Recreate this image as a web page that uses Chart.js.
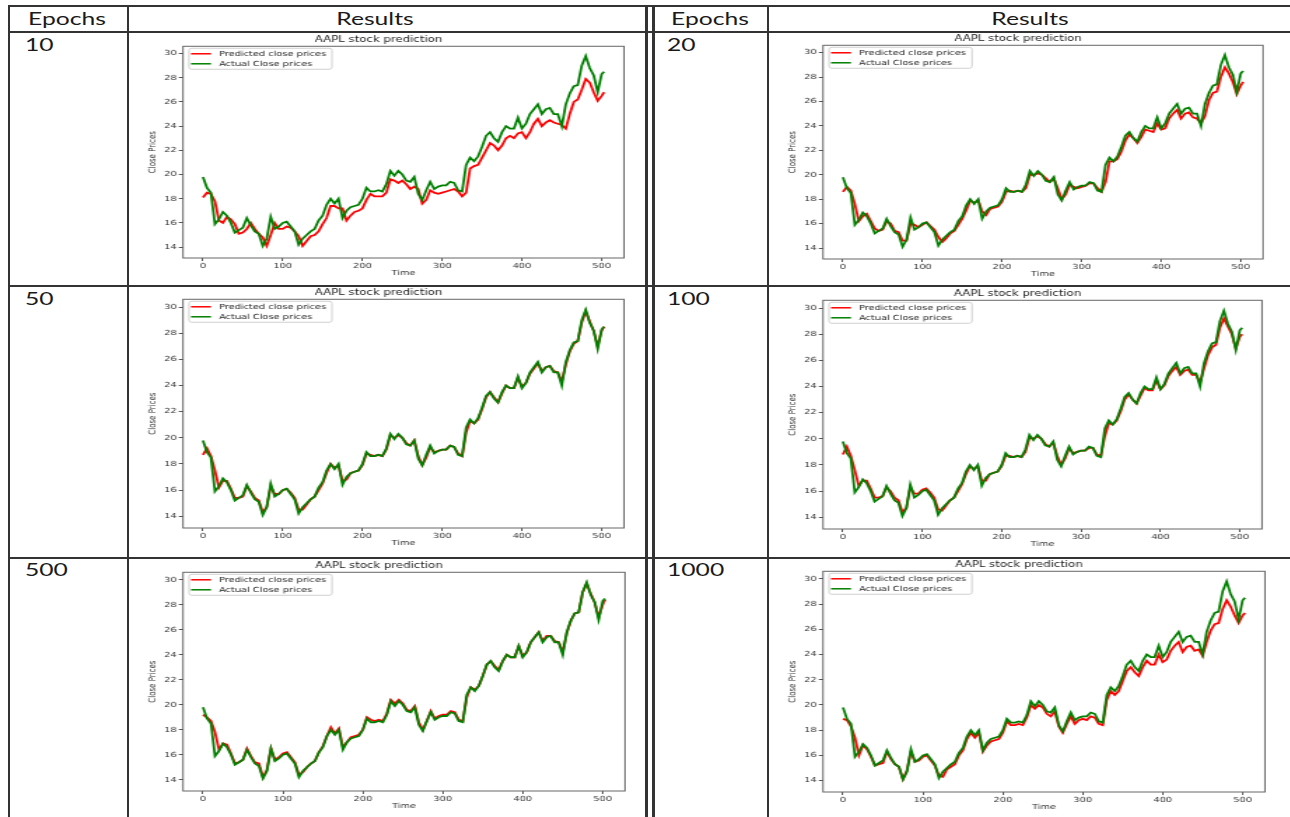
<!DOCTYPE html>
<html>
<head>
<meta charset="utf-8">
<script src="https://cdn.jsdelivr.net/npm/chart.js@4.4.1/dist/chart.umd.min.js"></script>
<style>
body { margin: 0; background: #fff; }
#page { position: relative; width: 1290px; height: 817px; overflow: hidden; background: #fff; }
.ln { position: absolute; background: #333; }
.txt { position: absolute; font-family: Lato, 'Open Sans', sans-serif; font-size: 17px; line-height: 17px; color: #1a1a1a; white-space: nowrap; }
.fig { position: absolute; transform-origin: 0 0; }
</style>
</head>
<body>
<div id="page"></div>
<script>
// time steps (every 5th trading day)
const days = [0,5,10,15,20,25,30,35,40,45,50,55,60,65,70,75,80,85,90,95,
  100,105,110,115,120,125,130,135,140,145,150,155,160,165,170,175,180,185,190,195,
  200,205,210,215,220,225,230,235,240,245,250,255,260,265,270,275,280,285,290,295,
  300,305,310,315,320,325,330,335,340,345,350,355,360,365,370,375,380,385,390,395,
  400,405,410,415,420,425,430,435,440,445,450,455,460,465,470,475,480,485,490,495,500,503];

const actual = [19.8,18.9,18.5,15.9,16.3,16.9,16.6,16.0,15.2,15.4,
  15.6,16.4,15.8,15.3,15.1,14.1,14.7,16.5,15.5,15.7,
  16.0,16.1,15.7,15.3,14.2,14.7,15.0,15.3,15.5,16.2,
  16.6,17.5,18.0,17.6,18.0,16.4,17.0,17.3,17.4,17.5,
  18.0,18.9,18.6,18.6,18.7,18.6,19.2,20.3,19.9,20.3,
  20.0,19.5,19.4,19.8,18.4,17.9,18.7,19.4,18.8,19.0,
  19.1,19.1,19.4,19.3,18.7,18.6,20.8,21.4,21.1,21.5,
  22.3,23.2,23.5,23.0,22.7,23.5,24.0,23.8,23.8,24.7,
  23.8,24.2,25.0,25.4,25.8,25.0,25.4,25.5,25.0,25.0,
  24.0,25.8,26.7,27.3,27.4,29.0,29.8,28.8,28.2,26.8,
  28.3,28.5];

const pred10 = [18.1,18.5,18.4,17.8,16.2,16.0,16.5,16.3,15.9,15.1,
  15.2,15.5,16.0,15.5,15.1,14.8,14.1,15.0,16.0,15.5,
  15.5,15.7,15.6,15.3,14.9,14.1,14.5,14.9,15.0,15.3,
  15.9,16.4,17.4,17.4,17.2,17.2,16.2,16.6,16.9,17.0,
  17.2,17.9,18.4,18.2,18.2,18.2,18.5,19.6,19.5,19.3,
  19.5,19.2,18.8,19.0,18.8,17.6,17.9,18.7,18.5,18.4,
  18.5,18.6,18.7,18.8,18.6,18.2,18.5,20.5,20.7,20.8,
  21.4,22.0,22.6,22.4,22.0,22.4,23.0,23.2,23.0,23.4,
  23.5,23.0,23.5,24.2,24.6,24.0,24.3,24.5,24.3,24.2,
  24.1,23.8,25.0,26.0,26.2,27.0,27.9,27.6,26.8,26.1,
  26.5,26.8];

const pred20 = [18.6,19.0,18.7,17.6,16.2,16.6,16.8,16.2,15.6,15.4,
  15.5,16.2,16.0,15.4,15.3,14.6,14.6,16.0,15.9,15.7,
  15.9,16.1,15.8,15.5,14.9,14.5,14.8,15.2,15.4,15.9,
  16.4,17.1,17.9,17.7,17.9,17.0,16.7,17.2,17.3,17.4,
  17.8,18.6,18.7,18.6,18.7,18.6,18.9,20.0,20.0,20.1,
  20.0,19.7,19.4,19.7,18.9,18.0,18.4,19.2,19.0,18.9,
  19.0,19.1,19.3,19.3,18.9,18.6,19.4,21.1,21.1,21.3,
  21.9,22.8,23.3,23.0,22.6,23.1,23.7,23.6,23.5,24.2,
  23.7,23.8,24.6,25.0,25.3,24.6,25.0,25.1,24.7,24.6,
  24.2,24.8,26.1,26.7,26.8,28.0,28.8,28.3,27.6,26.6,
  27.3,27.6];

const pred50 = [18.7,19.2,18.6,17.5,16.2,16.7,16.7,16.1,15.4,15.4,
  15.5,16.3,15.9,15.4,15.2,14.3,14.7,16.3,15.7,15.7,
  16.0,16.1,15.8,15.4,14.5,14.5,14.9,15.3,15.5,16.0,
  16.5,17.3,18.0,17.7,17.9,16.7,16.8,17.3,17.4,17.5,
  17.9,18.8,18.7,18.6,18.7,18.6,19.1,20.2,20.0,20.2,
  20.0,19.6,19.4,19.8,18.6,17.9,18.5,19.3,18.9,19.0,
  19.1,19.1,19.4,19.3,18.8,18.6,20.4,21.3,21.1,21.4,
  22.2,23.1,23.5,23.1,22.7,23.4,24.0,23.8,23.8,24.6,
  23.9,24.2,24.9,25.3,25.7,25.1,25.4,25.5,25.1,25.0,
  24.3,25.6,26.6,27.2,27.4,28.8,29.7,28.9,28.2,27.0,
  28.2,28.5];

const pred100 = [18.8,19.4,18.7,17.6,16.4,16.8,16.8,16.2,15.5,15.5,
  15.6,16.3,16.0,15.5,15.3,14.4,14.7,16.3,15.8,15.8,
  16.1,16.2,15.9,15.5,14.6,14.5,14.9,15.3,15.5,16.0,
  16.5,17.3,17.9,17.7,17.9,16.8,16.8,17.3,17.4,17.5,
  17.9,18.7,18.7,18.6,18.7,18.6,19.0,20.1,20.0,20.2,
  20.0,19.6,19.4,19.7,18.7,18.0,18.5,19.3,18.9,19.0,
  19.1,19.1,19.3,19.3,18.8,18.7,20.2,21.2,21.1,21.4,
  22.1,23.0,23.4,23.0,22.7,23.3,23.9,23.7,23.7,24.5,
  23.8,24.1,24.8,25.2,25.5,24.9,25.2,25.3,24.9,24.9,
  24.3,25.4,26.4,27.0,27.2,28.5,29.2,28.6,28.0,26.9,
  27.8,28.0];

const pred500 = [19.2,19.0,18.7,17.8,16.4,16.9,16.8,16.1,15.3,15.4,
  15.6,16.5,15.9,15.4,15.3,14.2,14.8,16.5,15.6,15.8,
  16.1,16.2,15.8,15.4,14.4,14.6,15.0,15.3,15.5,16.2,
  16.7,17.5,18.2,17.7,18.1,16.6,17.0,17.4,17.5,17.6,
  18.0,19.0,18.8,18.7,18.8,18.7,19.3,20.4,20.1,20.4,
  20.1,19.6,19.5,19.9,18.6,18.0,18.7,19.5,18.9,19.1,
  19.2,19.2,19.5,19.4,18.8,18.7,20.6,21.4,21.2,21.5,
  22.3,23.2,23.5,23.1,22.8,23.5,24.0,23.8,23.8,24.7,
  23.9,24.2,25.0,25.4,25.8,25.1,25.5,25.5,25.1,25.0,
  24.2,25.7,26.7,27.3,27.4,29.0,29.7,28.9,28.2,27.0,
  28.0,28.4];

const pred1000 = [18.9,18.8,18.3,17.4,16.0,16.8,16.5,15.9,15.2,15.3,
  15.4,16.3,15.7,15.3,15.1,14.1,14.8,16.3,15.5,15.6,
  15.9,16.0,15.6,15.2,14.4,14.3,14.9,15.1,15.3,16.0,
  16.4,17.3,17.8,17.4,17.8,16.3,16.8,17.1,17.2,17.3,
  17.8,18.7,18.4,18.4,18.5,18.4,19.0,20.0,19.7,20.0,
  19.8,19.3,19.1,19.5,18.3,17.8,18.5,19.1,18.5,18.8,
  18.9,18.8,19.1,19.0,18.5,18.4,20.4,21.1,20.8,21.1,
  21.9,22.7,23.0,22.6,22.3,23.0,23.5,23.2,23.2,24.0,
  23.4,23.6,24.3,24.7,25.0,24.2,24.6,24.7,24.3,24.4,
  23.9,25.0,25.9,26.4,26.5,27.6,28.3,27.8,27.1,26.5,
  27.1,27.3];

const epochs = ['10', '20', '50', '100', '500', '1000'];
const predictions = [pred10, pred20, pred50, pred100, pred500, pred1000];
const yTicks = { min: 13.1, max: 30.6, step: 2 };
const xTicks = { min: -25, max: 528, step: 100 };

const SX = 1.4; // the reference picture is stretched sideways

// plot boxes (page px): left, top, width, height
const panels = [
  [183, 47, 441, 211],
  [823, 46, 440, 213],
  [183, 300, 441, 228],
  [823, 301, 439, 228],
  [183, 573, 442, 218],
  [823, 572, 442, 220]
];
const epochLabelPos = [[25, 36], [667, 36], [25, 290], [667, 290], [25, 561], [667, 561]];

const page = document.getElementById('page');

function line(x, y, w, h) {
  const d = document.createElement('div');
  d.className = 'ln';
  d.style.cssText = `left:${x}px;top:${y}px;width:${w}px;height:${h}px`;
  page.appendChild(d);
}

function text(str, x, y, centered) {
  const d = document.createElement('div');
  d.className = 'txt';
  d.textContent = str;
  if (centered) {
    d.style.cssText = `left:${x - 100}px;top:${y}px;width:200px;text-align:center;transform:scaleX(1.45);transform-origin:50% 0`;
  } else {
    d.style.cssText = `left:${x}px;top:${y}px;transform:scaleX(1.45);transform-origin:0 0`;
  }
  page.appendChild(d);
}

// table grid
line(8, 5, 1282, 1.5);
line(8, 31, 1282, 1.5);
line(8, 285, 1282, 1.5);
line(8, 557, 1282, 1.5);
line(8, 5, 1.5, 812);
line(127, 5, 1.5, 812);
line(645, 5, 3, 812);
line(652, 5, 2.5, 812);
line(767, 5, 1.5, 812);

text('Epochs', 67, 10, true);
text('Results', 375, 10, true);
text('Epochs', 710, 10, true);
text('Results', 1030, 10, true);
epochs.forEach((e, i) => text(e, epochLabelPos[i][0], epochLabelPos[i][1], false));

// axes frame + matplotlib style legend inside the plot
const frameLegend = {
  id: 'frameLegend',
  afterDatasetsDraw(chart, args, opts) {
    const { ctx, chartArea: a } = chart;
    const sx = opts.sx;
    ctx.save();
    ctx.strokeStyle = '#666';
    ctx.lineWidth = 1;
    ctx.strokeRect(a.left, a.top, a.right - a.left, a.bottom - a.top);

    const lx = a.left + 6 / sx, ly = a.top + 2, lw = 143 / sx, lh = 21;
    ctx.fillStyle = 'rgba(255,255,255,0.8)';
    ctx.strokeStyle = '#d0d0d0';
    ctx.beginPath();
    ctx.roundRect(lx, ly, lw, lh, 2);
    ctx.fill();
    ctx.stroke();

    ctx.font = '7px "DejaVu Sans"';
    ctx.textBaseline = 'middle';
    const items = chart.data.datasets.slice().sort((p, q) => q.order - p.order);
    items.forEach((ds, i) => {
      const y = a.top + 7.5 + i * 10;
      ctx.strokeStyle = ds.borderColor;
      ctx.lineWidth = 1.5;
      ctx.beginPath();
      ctx.moveTo(a.left + 8 / sx, y);
      ctx.lineTo(a.left + 28 / sx, y);
      ctx.stroke();
      ctx.fillStyle = '#222';
      ctx.fillText(ds.label, a.left + 36 / sx, y);
    });
    ctx.restore();
  }
};

const tickFont = { family: 'DejaVu Sans', size: 7 };

panels.forEach((p, i) => {
  const [px, py, pw, ph] = p;
  const totalW = pw + 62;
  const W = Math.round(totalW / SX);
  const sx = totalW / W;
  const H = ph + 44;

  const holder = document.createElement('div');
  holder.className = 'fig';
  holder.style.cssText = `left:${px - 50}px;top:${py - 16}px;width:${W}px;height:${H}px;transform:scaleX(${sx})`;
  const cv = document.createElement('canvas');
  cv.width = W;
  cv.height = H;
  cv.style.width = W + 'px';
  cv.style.height = H + 'px';
  holder.appendChild(cv);
  page.appendChild(holder);

  new Chart(cv, {
    type: 'line',
    data: {
      datasets: [
        {
          label: 'Predicted close prices',
          data: days.map((d, k) => ({ x: d, y: predictions[i][k] })),
          borderColor: '#ff0000',
          borderWidth: 1.8,
          pointRadius: 0,
          order: 2
        },
        {
          label: 'Actual Close prices',
          data: days.map((d, k) => ({ x: d, y: actual[k] })),
          borderColor: '#008000',
          borderWidth: 1.8,
          pointRadius: 0,
          order: 1
        }
      ]
    },
    options: {
      responsive: false,
      animation: false,
      layout: { padding: { left: 0, right: 12 / sx, top: 0, bottom: 0 } },
      plugins: {
        legend: { display: false },
        tooltip: { enabled: false },
        title: {
          display: true,
          text: 'AAPL stock prediction',
          color: '#222',
          font: { family: 'DejaVu Sans', size: 8.4, weight: 'normal' },
          padding: { top: 3.6, bottom: 1.6 }
        },
        frameLegend: { sx: sx }
      },
      scales: {
        x: {
          type: 'linear',
          min: xTicks.min,
          max: xTicks.max,
          border: { display: false },
          grid: { drawOnChartArea: false, drawTicks: true, tickLength: 3, color: '#555' },
          ticks: { stepSize: xTicks.step, includeBounds: false, maxRotation: 0, padding: 1, color: '#333', font: tickFont },
          title: { display: true, text: 'Time', color: '#333', font: tickFont, padding: { top: 0, bottom: 8.8 } },
          afterFit(scale) { scale.height = 28; }
        },
        y: {
          min: yTicks.min,
          max: yTicks.max,
          border: { display: false },
          grid: { drawOnChartArea: false, drawTicks: true, tickLength: 3, color: '#555' },
          ticks: { stepSize: yTicks.step, includeBounds: false, padding: 1.5, color: '#333', font: tickFont },
          title: { display: true, text: 'Close Prices', color: '#333', font: tickFont, padding: { top: 10.1, bottom: 0 } },
          afterFit(scale) { scale.width = 50 / sx; }
        }
      }
    },
    plugins: [frameLegend]
  });
});
</script>
</body>
</html>
